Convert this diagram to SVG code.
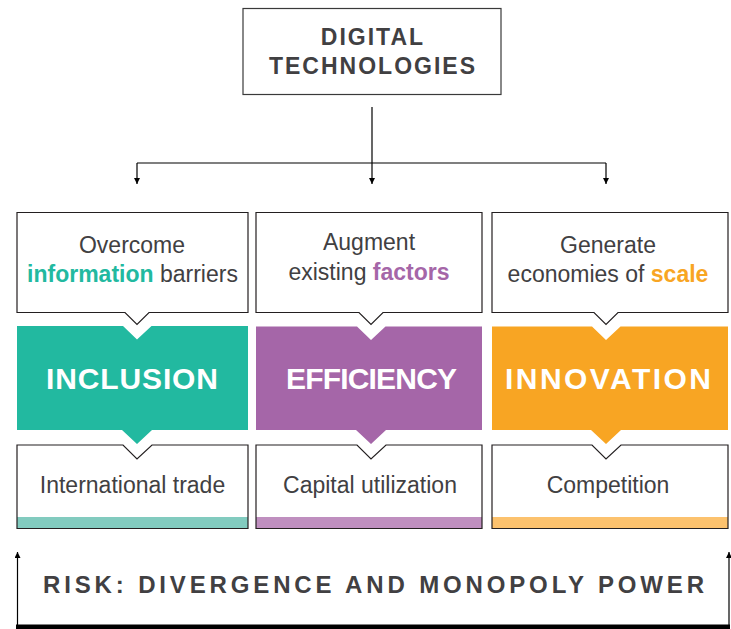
<svg xmlns="http://www.w3.org/2000/svg" width="731" height="629" viewBox="0 0 731 629">
  <defs>
    <marker id="arr" viewBox="0 0 10 10" refX="10" refY="5" markerWidth="6" markerHeight="6" orient="auto" markerUnits="userSpaceOnUse">
      <path d="M0,0 L10,5 L0,10 Z" fill="#000"/>
    </marker>
    <style>
      .t { font-family: "Liberation Sans", Arial, sans-serif; fill: #414042; }
      .reg { font-size: 23px; text-anchor: middle; }
      .hd { font-weight: bold; font-size: 23px; text-anchor: middle; letter-spacing: 2px; }
      .big { font-family: "Liberation Sans", Arial, sans-serif; font-weight: bold; font-size: 30px; fill: #ffffff; }
      .box { fill: #ffffff; stroke: #231f20; stroke-width: 1.2; }
      .frame { fill: none; stroke: #231f20; stroke-width: 1.2; }
      .conn { fill: none; stroke: #000; stroke-width: 1.2; }
      .b { font-weight: bold; }
    </style>
  </defs>
  <rect width="731" height="629" fill="#ffffff"/>

  <g id="digital-technologies">
    <rect x="243" y="8.5" width="258" height="86" fill="#fff" stroke="#3a3a3a" stroke-width="1.2"/>
    <text class="t hd" x="373" y="45">DIGITAL</text>
    <text class="t hd" x="373" y="74">TECHNOLOGIES</text>
  </g>

  <g id="connectors">
    <path class="conn" d="M372,107 V184" marker-end="url(#arr)"/>
    <path class="conn" d="M137,163 H606"/>
    <path class="conn" d="M137,163 V184" marker-end="url(#arr)"/>
    <path class="conn" d="M606,163 V184" marker-end="url(#arr)"/>
    <path class="conn" d="M17.5,626 V552" marker-end="url(#arr)"/>
    <path class="conn" d="M729,626 V552" marker-end="url(#arr)"/>
    <rect x="16" y="624.5" width="714" height="4.5" fill="#000"/>
  </g>

  <g id="callout-inclusion">
    <path class="box" d="M17,212.5 H248 V312.5 H149 L137,324.5 L125,312.5 H17 Z"/>
    <text class="t reg" x="132" y="253">Overcome</text>
    <text class="t reg" x="132.5" y="281.5"><tspan class="b" fill="#22b9a0">information</tspan> barriers</text>
  </g>
  <g id="callout-efficiency">
    <path class="box" d="M256,212.5 H482 V312.5 H383 L371,324.5 L359,312.5 H256 Z"/>
    <text class="t reg" x="369" y="250">Augment</text>
    <text class="t reg" x="369" y="279.5">existing <tspan class="b" fill="#a566a8">factors</tspan></text>
  </g>
  <g id="callout-innovation">
    <path class="box" d="M492,212.5 H728 V312.5 H618 L606,324.5 L594,312.5 H492 Z"/>
    <text class="t reg" x="608" y="253">Generate</text>
    <text class="t reg" x="608" y="281.5">economies of <tspan class="b" fill="#f8a523">scale</tspan></text>
  </g>

  <g id="inclusion">
    <path fill="#22b9a0" d="M17,326 H123 L137,339.5 L151.5,326 H248 V430 H152 L137,444 L122,430 H17 Z"/>
    <text class="big" x="46" y="388.5" textLength="172" lengthAdjust="spacing">INCLUSION</text>
  </g>
  <g id="efficiency">
    <path fill="#a566a8" d="M256,326.5 H357 L371,340 L385.5,326.5 H482 V430 H386 L371,444 L356,430 H256 Z"/>
    <text class="big" x="286" y="388.5" textLength="171" lengthAdjust="spacing">EFFICIENCY</text>
  </g>
  <g id="innovation">
    <path fill="#f8a523" d="M492,326.5 H592 L606,340 L620.5,326.5 H728 V430 H621 L606,444 L591,430 H492 Z"/>
    <text class="big" x="505" y="388.5" textLength="206" lengthAdjust="spacing">INNOVATION</text>
  </g>

  <g id="international-trade">
    <rect x="17" y="517" width="231" height="11.5" fill="#82cbbf"/>
    <path class="frame" d="M17,445 H123 L137,459 L152,445 H248 V528.5 H17 Z"/>
    <text class="t reg" x="132.5" y="493">International trade</text>
  </g>
  <g id="capital-utilization">
    <rect x="256" y="517" width="226" height="11.5" fill="#bf8fbf"/>
    <path class="frame" d="M256,445 H357 L371,459 L386,445 H482 V528.5 H256 Z"/>
    <text class="t reg" x="370" y="493">Capital utilization</text>
  </g>
  <g id="competition">
    <rect x="492" y="517" width="236" height="11.5" fill="#fcc26e"/>
    <path class="frame" d="M492,445 H592 L606,459 L621,445 H728 V528.5 H492 Z"/>
    <text class="t reg" x="608" y="493">Competition</text>
  </g>

  <g id="risk">
    <text class="t" x="43" y="593" font-weight="bold" font-size="24" textLength="661" lengthAdjust="spacing">RISK: DIVERGENCE AND MONOPOLY POWER</text>
  </g>
</svg>
